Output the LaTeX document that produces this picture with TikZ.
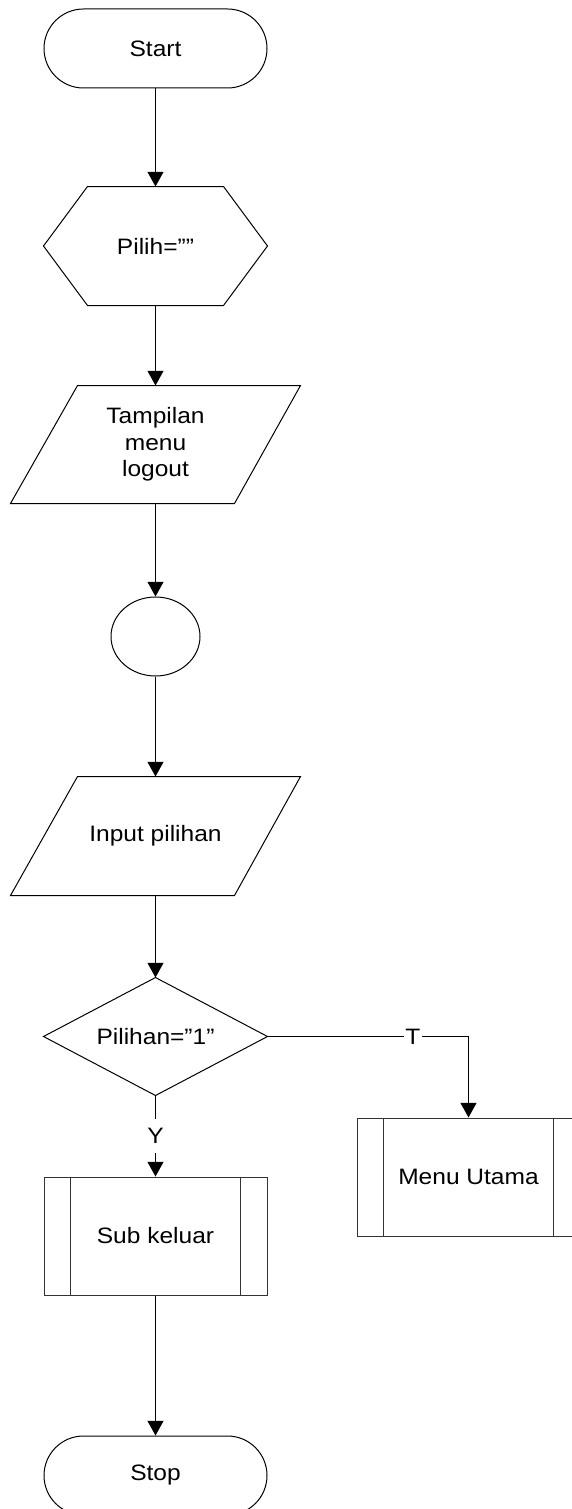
\documentclass[tikz,border=0pt]{standalone}
\usepackage{fontspec}
\setmainfont[FakeStretch=1.1]{Liberation Sans}
\usetikzlibrary{shapes.misc,shapes.geometric,arrows.meta,calc}
\begin{document}
\begin{tikzpicture}[x=1pt,y=-1pt,line width=1pt,
  every node/.style={font=\fontsize{22.3}{26.5}\selectfont},
  plain/.style={inner sep=0pt,minimum width=223pt,minimum height=118pt},
  term/.style={rounded rectangle,draw,inner sep=0pt,minimum width=223pt,minimum height=79pt},
  subbox/.style={plain,draw=black!80},
  arr/.style={-{Triangle[length=14.7pt,width=16pt]}},
  tlbl/.style={fill=white,inner xsep=1.5pt,inner ysep=2pt},
  ylbl/.style={fill=white,inner sep=1pt,minimum height=34pt}
]
\clip (0,0) rectangle (572,1509);

% nodes
\node[term] (start) at (155.5,48.5) {Start};

\node[plain] (hex) at (155.5,246) {Pilih=””};
\draw (hex.west) -- ($(hex.north west)+(44,0)$) -- ($(hex.north east)+(-44,0)$)
  -- (hex.east) -- ($(hex.south east)+(-44,0)$) -- ($(hex.south west)+(44,0)$) -- cycle;

\node[plain,minimum width=289pt,minimum height=117pt,align=center] (out) at (155.5,444.5) {Tampilan\\menu\\logout};
\draw ($(out.north west)+(67,0)$) -- (out.north east) -- ($(out.south east)+(-66,0)$) -- (out.south west) -- cycle;

\node[ellipse,draw,inner sep=0pt,minimum width=89pt,minimum height=79pt] (con) at (155.5,636.5) {};

\node[plain,minimum width=289pt,minimum height=118pt] (inp) at (155.5,836) {Input pilihan};
\draw ($(inp.north west)+(67,0)$) -- (inp.north east) -- ($(inp.south east)+(-66,0)$) -- (inp.south west) -- cycle;

\node[plain,minimum height=117pt] (dec) at (155.5,1036.5) {Pilihan=”1"};
\draw (dec.west) -- (dec.north) -- (dec.east) -- (dec.south) -- cycle;

\node[subbox] (sub) at (155.5,1236) {Sub keluar};
\draw[black!80] ($(sub.north west)+(27,0)$) -- ($(sub.south west)+(27,0)$);
\draw[black!80] ($(sub.north east)+(-27,0)$) -- ($(sub.south east)+(-27,0)$);

\node[subbox] (menu) at (468.5,1177) {Menu Utama};
\draw[black!80] ($(menu.north west)+(27,0)$) -- ($(menu.south west)+(27,0)$);
\draw[black!80] ($(menu.north east)+(-27,0)$) -- ($(menu.south east)+(-27,0)$);

\node[term] (stop) at (155.5,1475.5) {Stop};

% connectors
\draw[arr] (start.south) -- (hex.north);
\draw[arr] (hex.south) -- (out.north);
\draw[arr] (out.south) -- (con.north);
\draw[arr] (con.south) -- (inp.north);
\draw[arr] (inp.south) -- (dec.north);
\draw[arr] (dec.south) -- node[ylbl] {Y} (sub.north);
\coordinate (tc) at (menu.north |- dec.east);
\draw[arr] (dec.east) -- node[tlbl,pos=0.723] {T} (tc) -- (menu.north);
\draw[arr] (sub.south) -- (stop.north);
\end{tikzpicture}
\end{document}
